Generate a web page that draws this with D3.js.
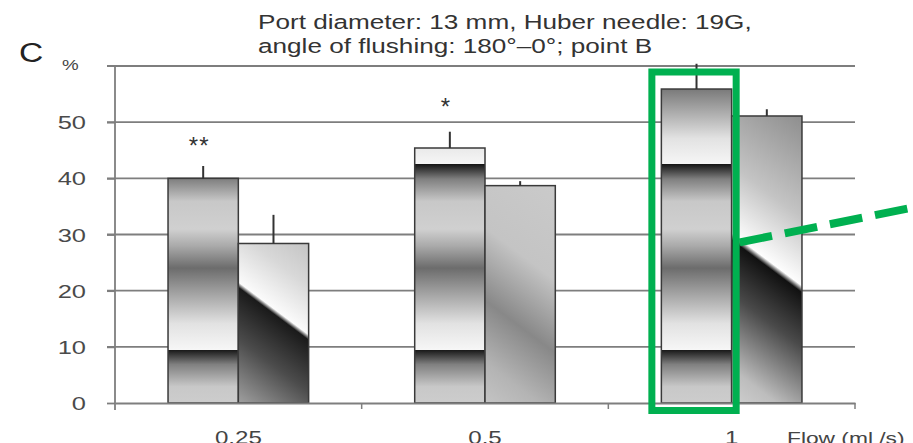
<!DOCTYPE html>
<html>
<head>
<meta charset="utf-8">
<script src="https://cdnjs.cloudflare.com/ajax/libs/d3/7.8.5/d3.min.js"></script>
<style>
  body { margin: 0; background: #fff; }
  text { font-family: Arial, "Liberation Sans", sans-serif; }
</style>
</head>
<body>
<svg id="chart" width="913" height="443"></svg>
<script>
// values (%)
var categories = ['0.25', '0.5', '1'];
var seriesA = [40.0, 45.4, 55.9];
var seriesAErr = [2.2, 2.9, 4.5];
var seriesB = [28.4, 38.7, 51.1];
var seriesBErr = [5.1, 0.8, 1.2];
var yTicks = [0, 10, 20, 30, 40, 50];
var yGrid = [10, 20, 30, 40, 50, 60];
var significance = ['**', '*', ''];
var titleLines = ['Port diameter: 13 mm, Huber needle: 19G,', 'angle of flushing: 180\u00b0\u20130\u00b0; point B'];

var svg = d3.select('#chart');
var SX = 1.34; // the source figure is stretched sideways
var green = '#00b050';

var x0 = d3.scaleBand().domain(categories).range([115, 855]).paddingInner(0.43).paddingOuter(0.215);
var x1 = d3.scaleBand().domain(['A', 'B']).range([0, x0.bandwidth()]);
var y = d3.scaleLinear().domain([0, 60]).range([403, 66]);

function stretched(g, x, yy, txt, size, anchor, fill, sx) {
  return g.append('text')
    .attr('transform', 'translate(' + x + ',' + yy + ') scale(' + (sx || SX) + ',1)')
    .attr('text-anchor', anchor || 'start')
    .attr('font-size', size)
    .attr('fill', fill || '#444')
    .text(txt);
}

// gradients (user space of the group each bar sits in)
var defs = svg.append('defs');
var gA = defs.append('linearGradient').attr('id', 'gradA')
  .attr('gradientUnits', 'userSpaceOnUse').attr('spreadMethod', 'repeat')
  .attr('x1', 0).attr('x2', 0).attr('y1', y(9.5)).attr('y2', y(42.5));
[[0, '#f6f6f6'], [0.14, '#e2e2e2'], [0.32, '#9c9c9c'], [0.44, '#6c6c6c'], [0.56, '#aaaaaa'],
 [0.65, '#d0d0d0'], [0.8, '#c8c8c8'], [0.92, '#808080'], [1, '#161616']].forEach(function(s) {
  gA.append('stop').attr('offset', s[0]).attr('stop-color', s[1]);
});

var stopsB = [
  [[0, '#c4c4c4'], [0.2, '#d8d8d8'], [0.43, '#fbfbfb'], [0.455, '#1a1a1a'], [0.7, '#4c4c4c'], [1, '#a0a0a0']],
  [[0, '#cacaca'], [0.35, '#c4c4c4'], [0.62, '#888888'], [0.85, '#b4b4b4'], [1, '#c4c4c4']],
  [[0, '#8e8e8e'], [0.3, '#c4c4c4'], [0.5, '#fdfdfd'], [0.52, '#111111'], [0.68, '#4a4a4a'], [0.9, '#bdbdbd'], [1, '#cfcfcf']]
];
categories.forEach(function(c, i) {
  var xl = x1('B'), w = x1.bandwidth();
  var yt = y(seriesB[i]), h = y(0) - yt;
  var d = 0.6 * w + 0.8 * h;
  var g = defs.append('linearGradient').attr('id', 'gradB' + i)
    .attr('gradientUnits', 'userSpaceOnUse')
    .attr('x1', xl + w).attr('y1', yt)
    .attr('x2', xl + w - 0.6 * d).attr('y2', yt + 0.8 * d);
  stopsB[i].forEach(function(s) {
    g.append('stop').attr('offset', s[0]).attr('stop-color', s[1]);
  });
});

// grid
svg.append('g').selectAll('line').data(yGrid).enter().append('line')
  .attr('x1', 107).attr('x2', 855)
  .attr('y1', function(d) { return y(d); }).attr('y2', function(d) { return y(d); })
  .attr('stroke', '#7e7e7e').attr('stroke-width', 1.8);

// bars
var groups = svg.append('g').selectAll('g').data(categories).enter().append('g')
  .attr('transform', function(d) { return 'translate(' + x0(d) + ',0)'; });

groups.append('rect')
  .attr('x', x1('A')).attr('width', x1.bandwidth())
  .attr('y', function(d, i) { return y(seriesA[i]); })
  .attr('height', function(d, i) { return y(0) - y(seriesA[i]); })
  .attr('fill', 'url(#gradA)').attr('stroke', '#3a3a3a').attr('stroke-width', 1.5);

groups.append('rect')
  .attr('x', x1('B')).attr('width', x1.bandwidth())
  .attr('y', function(d, i) { return y(seriesB[i]); })
  .attr('height', function(d, i) { return y(0) - y(seriesB[i]); })
  .attr('fill', function(d, i) { return 'url(#gradB' + i + ')'; })
  .attr('stroke', '#3a3a3a').attr('stroke-width', 1.5);

// error bars
groups.append('line')
  .attr('x1', x1('A') + x1.bandwidth() / 2).attr('x2', x1('A') + x1.bandwidth() / 2)
  .attr('y1', function(d, i) { return y(seriesA[i]); })
  .attr('y2', function(d, i) { return y(seriesA[i] + seriesAErr[i]); })
  .attr('stroke', '#333').attr('stroke-width', 2);
groups.append('line')
  .attr('x1', x1('B') + x1.bandwidth() / 2).attr('x2', x1('B') + x1.bandwidth() / 2)
  .attr('y1', function(d, i) { return y(seriesB[i]); })
  .attr('y2', function(d, i) { return y(seriesB[i] + seriesBErr[i]); })
  .attr('stroke', '#333').attr('stroke-width', 2);

// significance marks
groups.append('text')
  .attr('x', x1('A') + x1.bandwidth() / 2 - 4)
  .attr('y', function(d, i) { return y(seriesA[i] + seriesAErr[i]) - 12 - (significance[i].length === 1 ? 5 : 0); })
  .attr('text-anchor', 'middle').attr('font-size', 24).attr('fill', '#333')
  .attr('letter-spacing', 1)
  .text(function(d, i) { return significance[i]; });

// axes
var yAxis = svg.append('g').attr('transform', 'translate(115,0)')
  .call(d3.axisLeft(y).tickValues(yTicks).tickSize(8).tickSizeOuter(0));
yAxis.select('.domain').remove();
yAxis.selectAll('line').attr('stroke', '#7e7e7e').attr('stroke-width', 1.8);
yAxis.selectAll('text').attr('x', null).attr('dy', null)
  .attr('transform', 'translate(-29,6.5) scale(' + SX + ',1)')
  .attr('font-size', 19).attr('fill', '#4a4a4a').attr('font-family', null);

svg.append('line').attr('x1', 115).attr('x2', 115).attr('y1', y(60)).attr('y2', y(0) + 7)
  .attr('stroke', '#7e7e7e').attr('stroke-width', 1.8);

var xAxis = svg.append('g').attr('transform', 'translate(0,' + y(0) + ')')
  .call(d3.axisBottom(x0).tickSize(0).tickSizeOuter(0));
xAxis.select('.domain').attr('stroke', '#7e7e7e').attr('stroke-width', 1.8);
xAxis.selectAll('text').attr('y', null).attr('dy', null)
  .attr('transform', 'translate(0,41) scale(' + SX + ',1)')
  .attr('font-size', 18).attr('fill', '#444').attr('font-family', null);

var bounds = categories.map(function(c) { return x0(c) - x0.step() * x0.paddingInner() / 2; });
bounds[0] = 115;
bounds.push(855);
svg.append('g').selectAll('line').data(bounds.slice(1)).enter().append('line')
  .attr('x1', function(d) { return d; }).attr('x2', function(d) { return d; })
  .attr('y1', y(0)).attr('y2', y(0) + 6)
  .attr('stroke', '#7e7e7e').attr('stroke-width', 1.5);

// texts
var txt = svg.append('g');
stretched(txt, 258, 29, titleLines[0], 19.5, 'start', '#333');
stretched(txt, 258, 53, titleLines[1], 19.5, 'start', '#333');
stretched(txt, 19, 62, 'C', 28, 'start', '#222', 1.2);
stretched(txt, 62, 70, '%', 14, 'start', '#444');
stretched(txt, 787, 444, 'Flow (ml /s)', 17, 'start', '#444');

// highlight
var hx = x0('1') + x1('A');
svg.append('rect')
  .attr('x', hx - 9.5).attr('width', x1.bandwidth() + 14)
  .attr('y', y(60) + 6).attr('height', y(0) + 7.5 - y(60) - 6)
  .attr('fill', 'none').attr('stroke', green).attr('stroke-width', 7);
svg.append('line')
  .attr('x1', hx + x1.bandwidth() + 8).attr('y1', y(28.6))
  .attr('x2', 913).attr('y2', y(34.8))
  .attr('stroke', green).attr('stroke-width', 8).attr('stroke-dasharray', '33,13');
</script>
</body>
</html>
